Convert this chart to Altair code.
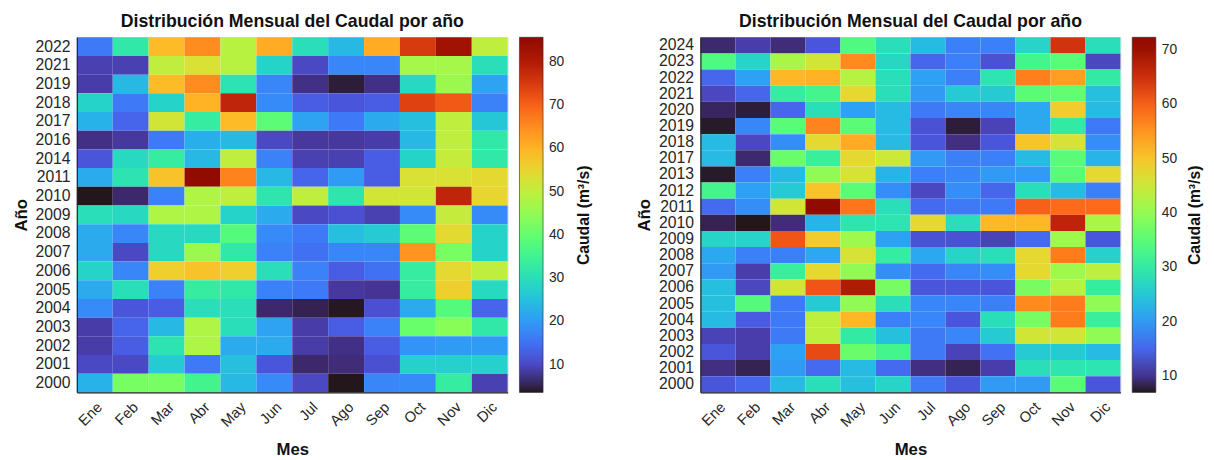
import altair as alt
import pandas as pd

months = ["Ene", "Feb", "Mar", "Abr", "May", "Jun", "Jul", "Ago", "Sep", "Oct", "Nov", "Dic"]

# ---------------- Panel izquierdo (caudal mensual, m3/s) ----------------
izq_years = ["2022", "2021", "2019", "2018", "2017", "2016", "2014", "2011", "2010", "2009",
             "2008", "2007", "2006", "2005", "2004", "2003", "2002", "2001", "2000"]
izq_2022 = [16, 32, 59, 65, 49, 61, 30, 24, 61, 75, 82, 50]
izq_2021 = [9, 9, 50, 53, 49, 28, 10, 17.5, 17.5, 47, 47, 30]
izq_2019 = [8.5, 24, 59, 65, 31, 17.5, 7, 4.5, 7, 29, 46, 21]
izq_2018 = [28, 16, 28, 60, 78, 18, 12.6, 11.8, 12.6, 74, 71, 17]
izq_2017 = [23, 13.5, 52, 33, 59, 39, 21, 16, 22, 25, 50, 26]
izq_2016 = [7, 8, 16, 22.5, 24, 10, 8, 8, 8.5, 24, 50, 32]
izq_2014 = [11.8, 29, 33, 24, 50, 17, 9, 9, 12.6, 28, 50.5, 32]
izq_2011 = [22, 31, 58, 85.7, 66, 24, 13.5, 20, 12.6, 53, 53, 54.5]
izq_2010 = [3.6, 6, 17, 48, 50, 31.5, 50, 31.5, 52, 52, 78, 55]
izq_2009 = [30, 29, 48, 48, 28, 22, 10, 11, 9, 18, 50.5, 18]
izq_2008 = [22, 17.5, 29, 29, 38, 18, 16, 25, 26.5, 39, 54.5, 28]
izq_2007 = [22, 10, 29, 46, 32, 17, 15, 17.5, 17.5, 64, 42, 28]
izq_2006 = [28, 17.5, 56, 58, 56, 30, 17, 12.6, 15, 33, 54.5, 50]
izq_2005 = [22, 30, 17, 33, 32, 17, 16, 8, 7.5, 33, 56, 29]
izq_2004 = [18, 11.8, 12.6, 30, 30, 6, 5.2, 3.8, 11, 22, 38, 13.5]
izq_2003 = [8.5, 13.5, 24, 48, 30, 21, 8.5, 12.6, 17, 40.5, 44, 32]
izq_2002 = [8.5, 12.6, 31, 48, 22, 22, 8.5, 7, 12.6, 19, 20, 20]
izq_2001 = [10, 10, 26.5, 16, 25, 11.8, 6, 6.5, 11, 27.5, 27.5, 27.5]
izq_2000 = [23, 42, 42, 35.5, 24, 18, 10, 3.6, 17.5, 18, 33, 9]
izq_rows = [izq_2022, izq_2021, izq_2019, izq_2018, izq_2017, izq_2016, izq_2014, izq_2011,
            izq_2010, izq_2009, izq_2008, izq_2007, izq_2006, izq_2005, izq_2004, izq_2003,
            izq_2002, izq_2001, izq_2000]
izq_ticks = [10, 20, 30, 40, 50, 60, 70, 80]

# ---------------- Panel derecho ----------------
der_years = ["2024", "2023", "2022", "2021", "2020", "2019", "2018", "2017", "2013", "2012",
             "2011", "2010", "2009", "2008", "2007", "2006", "2005", "2004", "2003", "2002",
             "2001", "2000"]
der_2024 = [9, 11, 9.3, 13.5, 34, 28, 23.3, 17.5, 17.5, 26.6, 64.5, 28]
der_2023 = [34, 26.6, 42, 45.5, 56, 27, 15, 17.5, 13, 32.5, 35, 12]
der_2022 = [15, 20.7, 51.4, 52, 43, 28, 20.7, 17.5, 29, 57, 54, 30]
der_2021 = [12, 15, 30.5, 32.5, 47.5, 28, 20, 25.3, 25.3, 35, 35.7, 24]
der_2020 = [8.6, 7.7, 15, 28, 20.7, 23.3, 16.8, 18, 18, 21.4, 49, 23.3]
der_2019 = [7.3, 18, 35, 56.6, 35, 23.3, 13, 7.7, 11.6, 21.4, 30, 16.8]
der_2018 = [23.3, 12, 18.8, 47.5, 52.7, 23.3, 13.5, 9.6, 13.5, 50, 46, 18.8]
der_2017 = [23.3, 9, 36.4, 31, 47.5, 45, 20, 17.5, 17.5, 23.3, 35, 22.7]
der_2013 = [7.3, 17.5, 23.3, 39.7, 46, 22.7, 17.5, 18, 20, 20, 35, 47.5]
der_2012 = [32.5, 20.7, 25.3, 50, 35, 18.8, 12, 18.8, 15, 28, 23.3, 17.5]
der_2011 = [15.5, 18.8, 45.5, 72.3, 58, 28, 15.5, 16.8, 16.8, 60, 59, 59]
der_2010 = [8.3, 7, 9.3, 22.7, 29, 29, 47.5, 28, 51.4, 51.4, 66.4, 42]
der_2009 = [26.6, 26.6, 61, 49, 41, 20.7, 13, 13, 11.6, 15.5, 41, 13.5]
der_2008 = [21.4, 17.5, 17.5, 21.4, 46, 30.5, 21.4, 26.6, 28, 47.5, 57.3, 26]
der_2007 = [20, 11, 31, 47.5, 39.7, 18.8, 15.5, 18, 18.8, 47.5, 41, 43.6]
der_2006 = [24, 12, 45.5, 61, 67.7, 37.7, 13.5, 13.5, 13.5, 37.7, 43, 30.5]
der_2005 = [24, 34.4, 16.8, 25.3, 39.7, 28, 18, 18, 17.5, 56, 57.3, 39.7]
der_2004 = [23.3, 14, 16.8, 43.6, 51.4, 17.5, 18, 13.5, 28, 37.7, 57.3, 31]
der_2003 = [11.6, 11, 16.8, 43.6, 30, 24, 16.8, 18, 25.3, 45.5, 45.5, 39.7]
der_2002 = [13.5, 11, 20.7, 62, 36.4, 32.5, 16.8, 11.6, 16, 25.3, 25.3, 23.3]
der_2001 = [9.6, 8.3, 20, 15.5, 23.3, 15.5, 9.6, 8.3, 11, 28, 29, 29]
der_2000 = [13.5, 15, 23.3, 28, 24, 26.6, 16.8, 13.5, 20, 20, 35, 13.5]
der_rows = [der_2024, der_2023, der_2022, der_2021, der_2020, der_2019, der_2018, der_2017,
            der_2013, der_2012, der_2011, der_2010, der_2009, der_2008, der_2007, der_2006,
            der_2005, der_2004, der_2003, der_2002, der_2001, der_2000]
der_ticks = [10, 20, 30, 40, 50, 60, 70]

FONT = "Liberation Sans"
TXT = "#262626"
TITLE = "Distribución Mensual del Caudal por año"
CB_TITLE = "Caudal (m³/s)"


def to_frame(years, rows):
    recs = []
    for y, row in zip(years, rows):
        for m, v in zip(months, row):
            recs.append({"Año": y, "Mes": m, "Caudal": v})
    return pd.DataFrame(recs)


def heat(df, years, rows, ticks, width):
    vals = [v for r in rows for v in r]
    dom = [min(vals), max(vals)]
    return alt.Chart(df).mark_rect().encode(
        x=alt.X("Mes:N", sort=months, title="Mes",
                scale=alt.Scale(paddingInner=0, paddingOuter=0),
                axis=alt.Axis(labelAngle=315, labelFontSize=15, labelFont=FONT, labelColor=TXT,
                              ticks=False, labelPadding=7, domainColor=TXT, domainWidth=1.2,
                              titleFontSize=17, titleFont=FONT, titleFontWeight="bold",
                              titleColor="#111111", titlePadding=13)),
        y=alt.Y("Año:N", sort=years, title="Año",
                scale=alt.Scale(paddingInner=0, paddingOuter=0),
                axis=alt.Axis(labelFontSize=16, labelFont=FONT, labelColor=TXT,
                              ticks=False, labelPadding=7, domainColor=TXT, domainWidth=1.2,
                              labelOverlap=False,
                              titleFontSize=17, titleFont=FONT, titleFontWeight="bold",
                              titleColor="#111111", titlePadding=5)),
        color=alt.Color("Caudal:Q",
                        scale=alt.Scale(scheme="turbo", domain=dom),
                        legend=alt.Legend(type="gradient", orient="right", direction="vertical",
                                          title=None, values=ticks,
                                          gradientLength=361, gradientThickness=24,
                                          gradientStrokeColor=TXT, gradientStrokeWidth=0.6,
                                          labelFontSize=14, labelFont=FONT, labelColor=TXT,
                                          labelOffset=6, offset=12, padding=0))
    ).properties(
        width=width, height=361,
        title=alt.Title(TITLE, fontSize=18, font=FONT, fontWeight="bold", color="#111111",
                        offset=6, anchor="middle")
    )


def cb_title(df):
    return alt.Chart(df).mark_point(opacity=0, strokeOpacity=0).encode(
        y=alt.Y("Caudal:Q",
                axis=alt.Axis(title=CB_TITLE, labels=False, ticks=False, domain=False, grid=False,
                              titleAngle=270, titleFontSize=16, titleFont=FONT,
                              titleFontWeight="bold", titleColor="#111111", titlePadding=0))
    ).properties(
        width=1, height=361,
        view=alt.ViewBackground(strokeOpacity=0, strokeWidth=0),
        title=alt.Title(" ", fontSize=18, font=FONT, offset=6)
    )


df_izq = to_frame(izq_years, izq_rows)
df_der = to_frame(der_years, der_rows)

left = alt.hconcat(heat(df_izq, izq_years, izq_rows, izq_ticks, 438), cb_title(df_izq),
                   spacing=10).resolve_scale(color="independent").resolve_legend(color="independent")
right = alt.hconcat(heat(df_der, der_years, der_rows, der_ticks, 427), cb_title(df_der),
                    spacing=8).resolve_scale(color="independent").resolve_legend(color="independent")

chart = alt.hconcat(left, right, spacing=40).resolve_scale(
    color="independent", x="independent", y="independent"
).resolve_legend(color="independent").configure_view(stroke=None).configure(
    padding={"left": 3, "top": 1, "right": 0, "bottom": 0}, background="white"
)

chart.save("out.html", embed_options={"renderer": "svg", "actions": False})
